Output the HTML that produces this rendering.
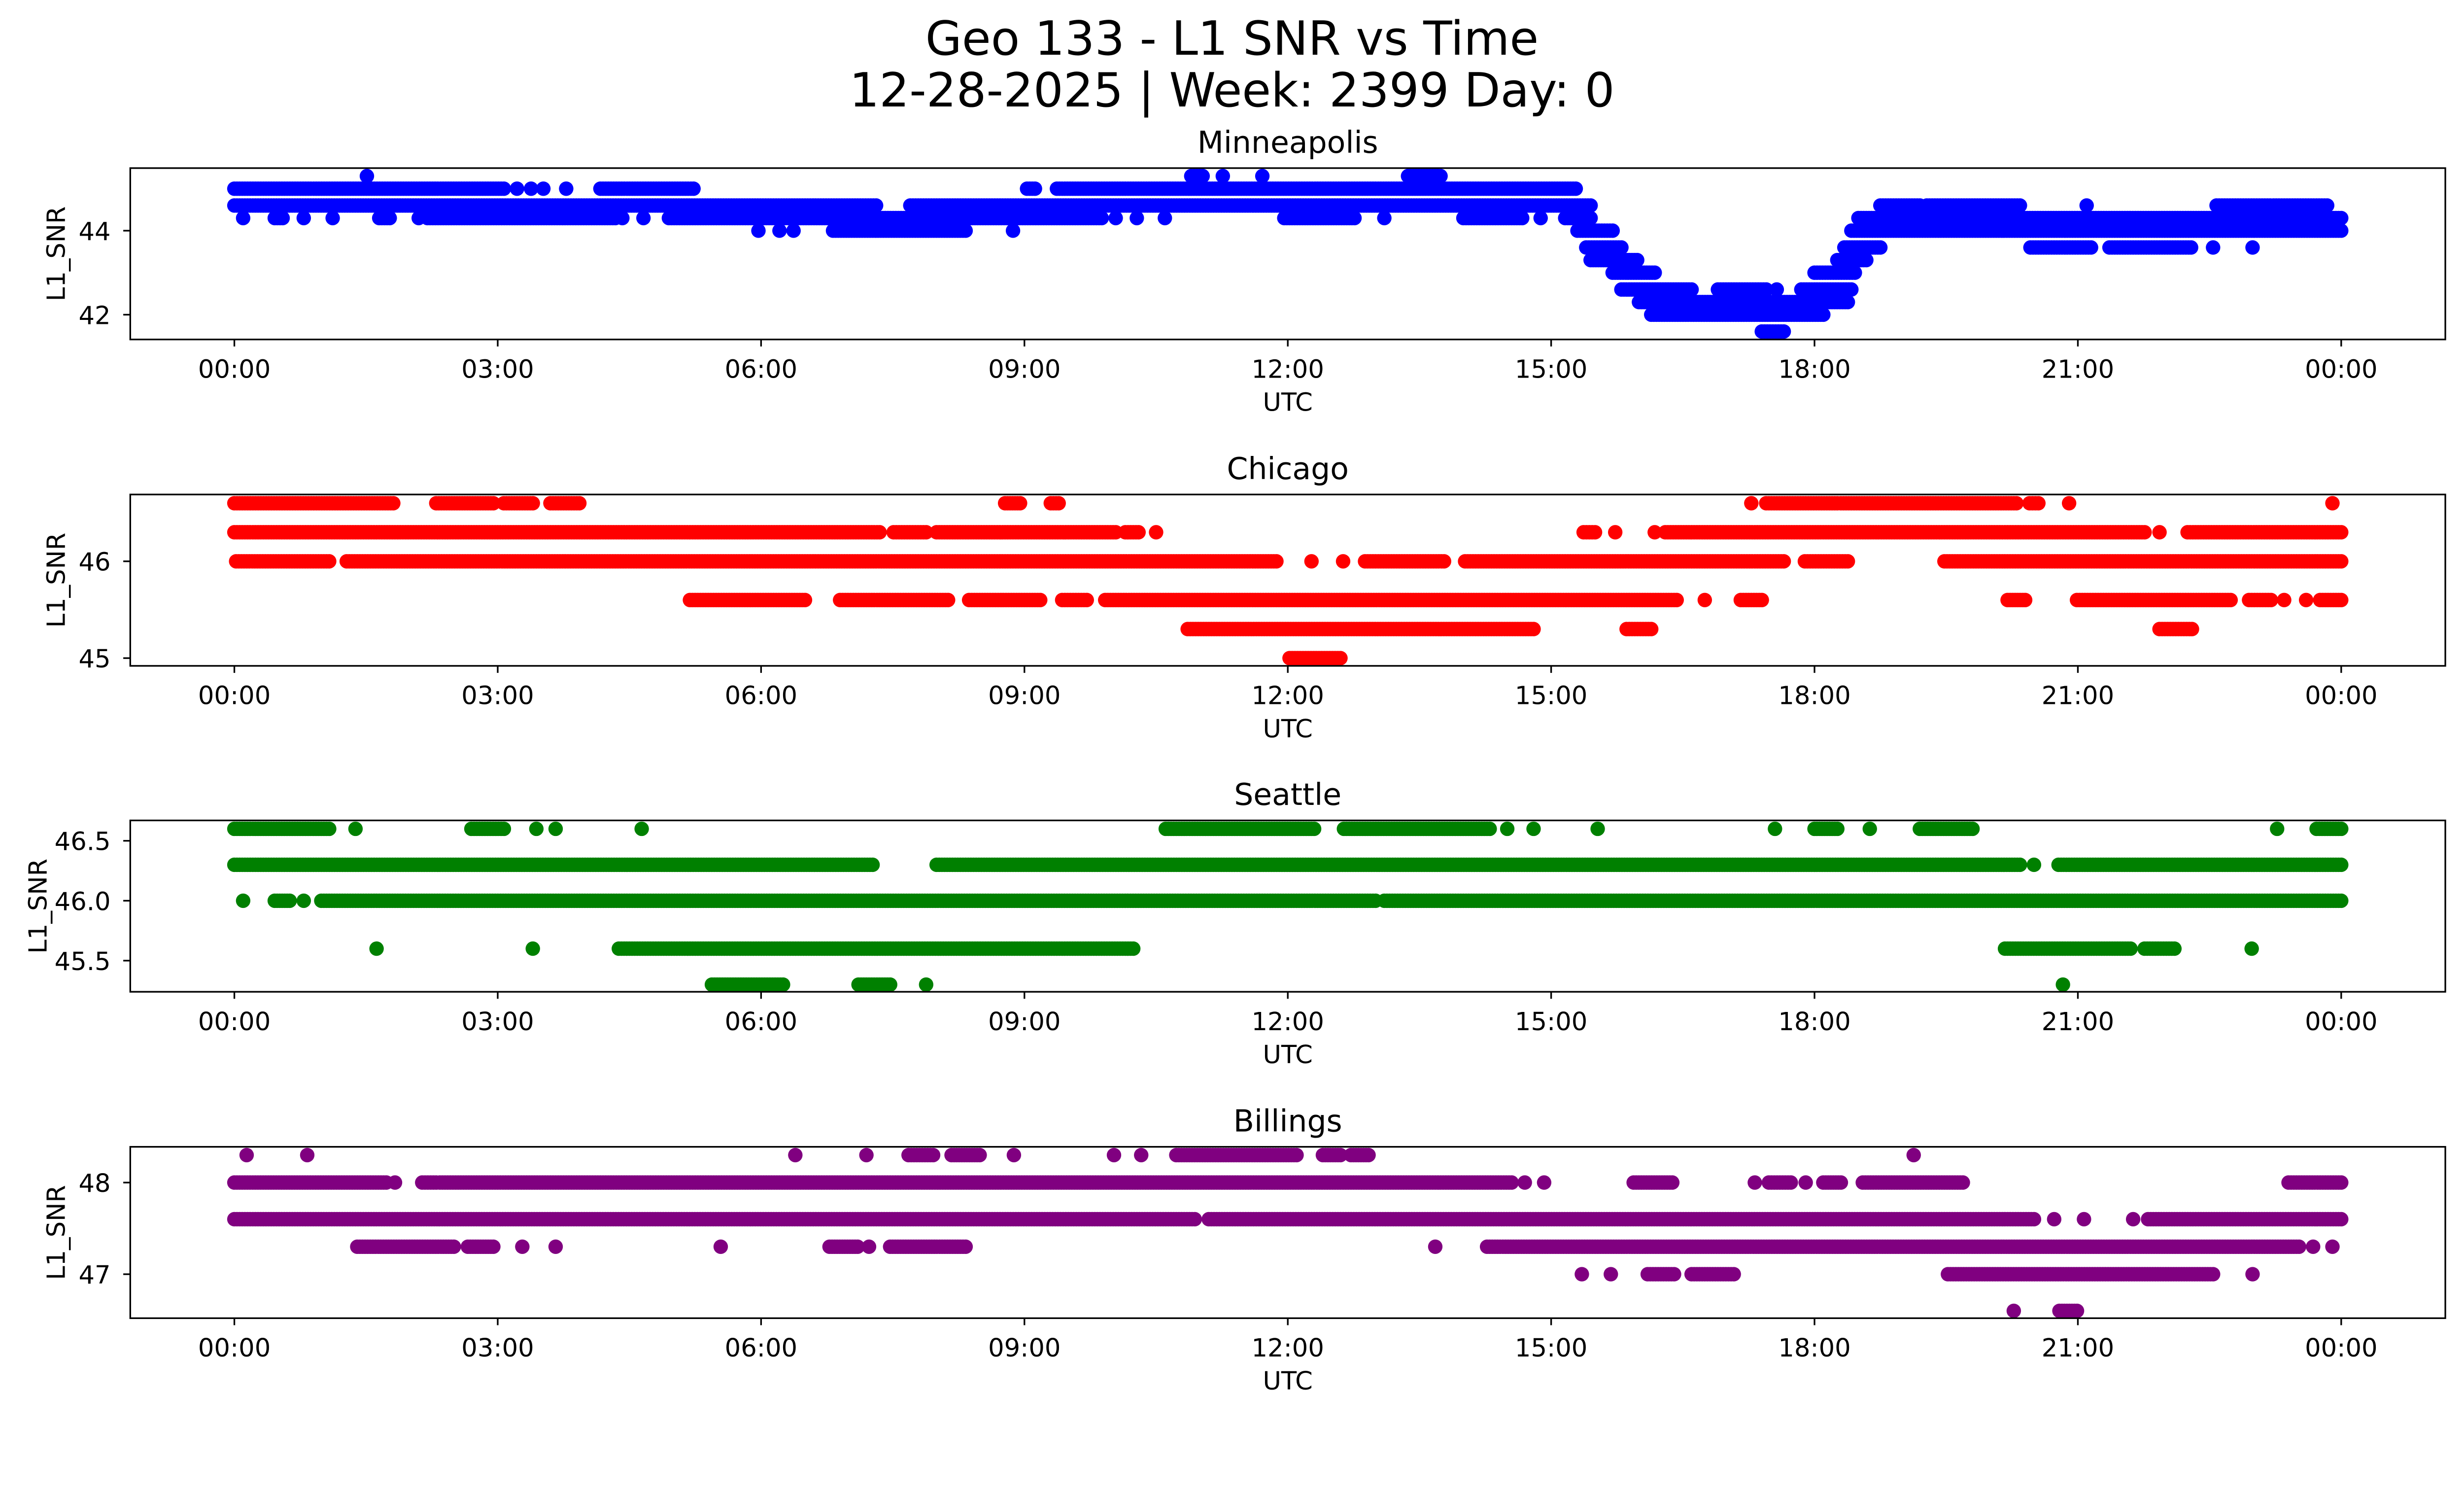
<!DOCTYPE html>
<html><head><meta charset="utf-8"><style>
html,body{margin:0;padding:0;background:#fff;overflow:hidden}
svg{display:block;width:100vw;height:calc(100vw * 3033 / 5278)}
text{font-family:"DejaVu Sans","Liberation Sans",sans-serif;fill:#000}
</style></head><body>
<svg id="fig" viewBox="0 0 5278 3033" preserveAspectRatio="xMidYMin meet" xmlns="http://www.w3.org/2000/svg">
<rect x="0" y="0" width="5278" height="3033" fill="#fff"/>
<text x="2639" y="117" font-size="101" text-anchor="middle">Geo 133 - L1 SNR vs Time</text>
<text x="2639" y="228" font-size="101" text-anchor="middle">12-28-2025 | Week: 2399 Day: 0</text>
</svg>
<script>
// ---- data: [SNR level, start hour, end hour] runs of consecutive samples ----
const cityNames = ["Minneapolis","Chicago","Seattle","Billings"];
const cityColors = ["#0000ff","#ff0000","#008000","#800080"];
const xTickLabels = ["00:00","03:00","06:00","09:00","12:00","15:00","18:00","21:00","00:00"];
const xTickHours = [0,3,6,9,12,15,18,21,24];
const yTicks = [[42,44],[45,46],[45.5,46.0,46.5],[47,48]];
const yTickLabels = [["42","44"],["45","46"],["45.5","46.0","46.5"],["47","48"]];
const yLimits = [[41.41,45.49],[44.92,46.69],[45.24,46.67],[46.52,48.39]];

const mplsRuns = [
[45.3,1.51,1.51],[45.3,10.9,11.03],[45.3,11.26,11.26],[45.3,11.71,11.71],[45.3,13.37,13.74],
[45.0,0,3.07],[45.0,3.22,3.22],[45.0,3.38,3.38],[45.0,3.52,3.52],[45.0,3.78,3.78],[45.0,4.17,5.23],[45.0,9.03,9.12],[45.0,9.37,15.28],
[44.6,0,7.31],[44.6,7.7,15.45],[44.6,18.75,19.2],[44.6,19.28,20.34],[44.6,21.1,21.1],[44.6,22.58,23.19],[44.6,23.23,23.84],
[44.3,0.1,0.1],[44.3,0.46,0.55],[44.3,0.79,0.79],[44.3,1.12,1.12],[44.3,1.65,1.77],[44.3,2.1,2.1],[44.3,2.2,4.34],[44.3,4.42,4.42],[44.3,4.66,4.66],[44.3,4.95,9.88],[44.3,10.04,10.04],[44.3,10.28,10.28],[44.3,10.6,10.6],[44.3,11.96,12.76],[44.3,13.1,13.1],[44.3,14.0,14.67],[44.3,14.88,14.88],[44.3,15.16,15.45],[44.3,18.5,24.0],
[44.0,5.97,5.97],[44.0,6.21,6.21],[44.0,6.37,6.37],[44.0,6.82,8.33],[44.0,8.87,8.87],[44.0,15.3,15.7],[44.0,18.42,24.0],
[43.6,15.4,15.8],[43.6,18.34,18.75],[43.6,20.46,21.15],[43.6,21.36,22.29],[43.6,22.54,22.54],[43.6,22.99,22.99],
[43.3,15.45,15.98],[43.3,18.26,18.59],
[43.0,15.7,16.18],[43.0,18.0,18.46],
[42.6,15.8,16.6],[42.6,16.9,17.45],[42.6,17.57,17.57],[42.6,17.85,18.42],
[42.3,16.0,18.38],
[42.0,16.14,18.1],
[41.6,17.4,17.65]
];
const chiRuns = [
[46.6,0,1.81],[46.6,2.3,2.95],[46.6,3.07,3.4],[46.6,3.6,3.93],[46.6,8.78,8.95],[46.6,9.3,9.39],[46.6,17.28,17.28],[46.6,17.45,18.26],[46.6,18.3,19.77],[46.6,19.8,20.3],[46.6,20.45,20.55],[46.6,20.9,20.9],[46.6,23.9,23.9],
[46.3,0,7.35],[46.3,7.51,7.88],[46.3,8.0,10.04],[46.3,10.15,10.3],[46.3,10.5,10.5],[46.3,15.37,15.5],[46.3,15.73,15.73],[46.3,16.18,16.18],[46.3,16.3,21.76],[46.3,21.93,21.93],[46.3,22.25,24.0],
[46.0,0.02,1.08],[46.0,1.28,11.87],[46.0,12.27,12.27],[46.0,12.63,12.63],[46.0,12.88,13.78],[46.0,14.02,17.65],[46.0,17.89,18.38],[46.0,19.48,24.0],
[45.6,5.19,6.5],[45.6,6.9,8.13],[45.6,8.37,9.18],[45.6,9.43,9.71],[45.6,9.92,16.43],[45.6,16.75,16.75],[45.6,17.16,17.4],[45.6,20.2,20.4],[45.6,20.99,22.74],[45.6,22.95,23.2],[45.6,23.35,23.35],[45.6,23.6,23.6],[45.6,23.76,24.0],
[45.3,10.86,14.8],[45.3,15.86,16.14],[45.3,21.93,22.3],
[45.0,12.02,12.6]
];
const seaRuns = [
[46.6,0,1.08],[46.6,1.38,1.38],[46.6,2.7,3.07],[46.6,3.44,3.44],[46.6,3.66,3.66],[46.6,4.64,4.64],[46.6,10.61,12.3],[46.6,12.64,14.3],[46.6,14.5,14.5],[46.6,14.8,14.8],[46.6,15.53,15.53],[46.6,17.55,17.55],[46.6,18.0,18.26],[46.6,18.63,18.63],[46.6,19.2,19.8],[46.6,23.27,23.27],[46.6,23.72,24.0],
[46.3,0,7.27],[46.3,8.0,20.34],[46.3,20.5,20.5],[46.3,20.78,24.0],
[46.0,0.1,0.1],[46.0,0.46,0.63],[46.0,0.79,0.79],[46.0,0.99,13.0],[46.0,13.1,24.0],
[45.6,1.62,1.62],[45.6,3.4,3.4],[45.6,4.38,10.24],[45.6,20.17,21.6],[45.6,21.76,22.1],[45.6,22.98,22.98],
[45.3,5.44,6.25],[45.3,7.11,7.47],[45.3,7.88,7.88],[45.3,20.83,20.83]
];
const bilRuns = [
[48.3,0.14,0.14],[48.3,0.83,0.83],[48.3,6.39,6.39],[48.3,7.2,7.2],[48.3,7.68,7.96],[48.3,8.17,8.49],[48.3,8.88,8.88],[48.3,10.02,10.02],[48.3,10.33,10.33],[48.3,10.73,12.1],[48.3,12.4,12.6],[48.3,12.72,12.92],[48.3,19.13,19.13],
[48.0,0,1.73],[48.0,1.83,1.83],[48.0,2.14,2.3],[48.0,2.34,14.55],[48.0,14.7,14.7],[48.0,14.92,14.92],[48.0,15.94,16.38],[48.0,17.32,17.32],[48.0,17.48,17.73],[48.0,17.9,17.9],[48.0,18.1,18.3],[48.0,18.55,19.69],[48.0,23.4,24.0],
[47.6,0,10.94],[47.6,11.1,20.5],[47.6,20.73,20.73],[47.6,21.07,21.07],[47.6,21.63,21.63],[47.6,21.8,24.0],
[47.3,1.4,2.5],[47.3,2.66,2.95],[47.3,3.28,3.28],[47.3,3.66,3.66],[47.3,5.54,5.54],[47.3,6.78,7.1],[47.3,7.23,7.23],[47.3,7.47,8.33],[47.3,13.68,13.68],[47.3,14.27,23.52],[47.3,23.68,23.68],[47.3,23.9,23.9],
[47.0,15.35,15.35],[47.0,15.68,15.68],[47.0,16.1,16.4],[47.0,16.6,17.08],[47.0,19.52,22.54],[47.0,22.99,22.99],
[46.6,20.27,20.27],[46.6,20.79,20.99]
];
const allRuns = [mplsRuns, chiRuns, seaRuns, bilRuns];

// ---- layout ----
const NS = "http://www.w3.org/2000/svg";
const svg = document.getElementById("fig");
const axLeft = 279, axRight = 5238, axH = 367;
const axTops = [360, 1059, 1757, 2456];
const x0 = 502, x24 = 5015;
function xScale(h){ return x0 + (x24 - x0) * h / 24; }
function mk(tag, attrs, parent){
  const e = document.createElementNS(NS, tag);
  for (const k in attrs) e.setAttribute(k, attrs[k]);
  (parent || svg).appendChild(e);
  return e;
}

for (let p = 0; p < 4; p++) {
  const top = axTops[p], bot = top + axH;
  const [ymin, ymax] = yLimits[p];
  const yScale = v => bot - (v - ymin) / (ymax - ymin) * axH;
  const g = mk("g", {});
  
  

  const t = mk("text", {x: (axLeft + axRight) / 2, y: top - 33, "font-size": 65, "text-anchor": "middle"}, g);
  t.textContent = cityNames[p];
  
  

  const cp = mk("clipPath", {id: "clip" + p}, g);
  mk("rect", {x: axLeft, y: top, width: axRight - axLeft, height: axH}, cp);

  const pts = mk("g", {"clip-path": "url(#clip" + p + ")", fill: cityColors[p]}, g);
  
  
  const step = 0.03;
  for (const run of allRuns[p]) {
    const [lv, s, e] = run;
    const n = Math.max(1, Math.round((e - s) / step) + 1);
    const cy = yScale(lv);
    for (let i = 0; i < n; i++) {
      const h = n === 1 ? s : s + (e - s) * i / (n - 1);
      const c = mk("circle", {cx: xScale(h).toFixed(1), cy: cy.toFixed(1), r: 15.5}, pts);
      
      
    }
  }

  const fr = mk("rect", {x: axLeft, y: top, width: axRight - axLeft, height: axH, fill: "none", stroke: "#000", "stroke-width": 3.5}, g);
  
  

  for (let i = 0; i < xTickHours.length; i++) {
    const x = xScale(xTickHours[i]);
    mk("line", {x1: x, x2: x, y1: bot, y2: bot + 15, stroke: "#000", "stroke-width": 3.5}, g);
    const tl = mk("text", {x: x, y: bot + 82, "font-size": 54, "text-anchor": "middle"}, g);
    tl.textContent = xTickLabels[i];
    
    
  }
  const xl = mk("text", {x: (axLeft + axRight) / 2, y: bot + 153, "font-size": 54, "text-anchor": "middle"}, g);
  xl.textContent = "UTC";
  
  

  for (let i = 0; i < yTicks[p].length; i++) {
    const y = yScale(yTicks[p][i]);
    mk("line", {x1: axLeft - 15, x2: axLeft, y1: y, y2: y, stroke: "#000", "stroke-width": 3.5}, g);
    const yl = mk("text", {x: 237, y: y + 20, "font-size": 54, "text-anchor": "end"}, g);
    yl.textContent = yTickLabels[p][i];
    
    
  }
  const yc = top + axH / 2;
  const yt = mk("text", {x: 0, y: 0, "font-size": 54, "text-anchor": "middle", transform: "translate(" + (p === 2 ? 100 : 139) + "," + yc + ") rotate(-90)"}, g);
  yt.textContent = "L1_SNR";
  
  
}
</script>
</body></html>
